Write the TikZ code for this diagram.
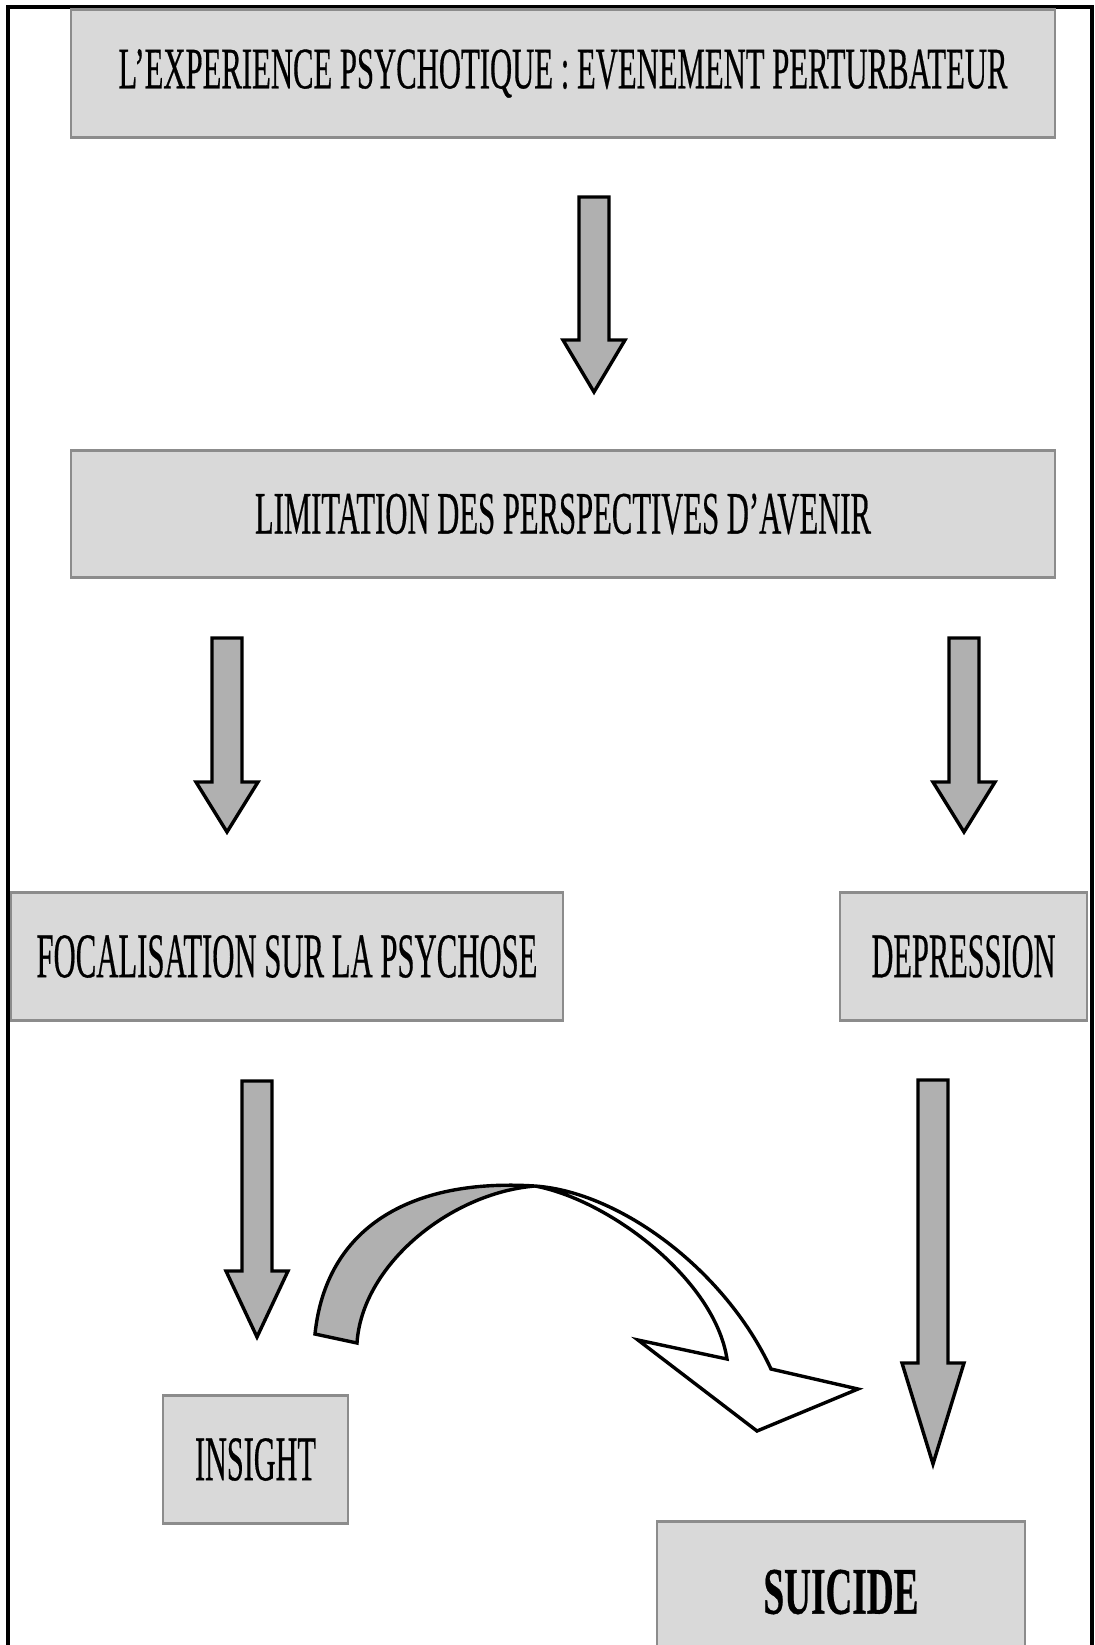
\documentclass[tikz,border=0pt]{standalone}
\usepackage{fontspec}
\setmainfont{Liberation Serif}
\newfontfamily\heavy[FakeBold=0.6]{Liberation Serif}
\usepackage{graphicx}
\definecolor{boxfill}{HTML}{D9D9D9}
\definecolor{boxedge}{HTML}{8C8C8C}
\definecolor{arrowfill}{HTML}{B0B0B0}
\newcommand{\blockarrow}[4]{%
  \draw[barrow] ({#1-15},#2) -- ({#1+15},#2) -- ({#1+15},#3) -- ({#1+31},#3) -- (#1,#4) -- ({#1-31},#3) -- ({#1-15},#3) -- cycle;}
\begin{document}
\begin{tikzpicture}[x=0.5pt,y=-0.5pt,
  box/.style={rectangle, fill=boxfill, draw=boxedge, line width=0.7pt, inner sep=0pt, text=black, font=\heavy},
  boxedgeline/.style={draw=boxedge, line width=1.6pt},
  barrow/.style={fill=arrowfill, draw=black, line width=1.7pt, line join=miter},
  curv/.style={draw=black, line width=1.7pt, line join=miter},
  frameline/.style={draw=black, line width=2pt}]
\useasboundingbox (0,0) rectangle (1095,1645);
\clip (0,0) rectangle (1095,1645);
\fill[white] (0,0) rectangle (1095,1645);
% frame
\draw[frameline] (8,1650) -- (8,7) -- (1092,7) -- (1092,1650);
% boxes
\node[box, minimum width=492pt, minimum height=63.5pt] (b1) at (563,73.5)
  {\resizebox{444.5pt}{19.5pt}{L’EXPERIENCE PSYCHOTIQUE : EVENEMENT PERTURBATEUR}};
\node[box, minimum width=492pt, minimum height=63pt] (b2) at (563,514)
  {\resizebox{308pt}{20pt}{LIMITATION DES PERSPECTIVES D’AVENIR}};
\node[box, minimum width=276pt, minimum height=63.5pt] (b3) at (287,956.5)
  {\resizebox{250.5pt}{21pt}{FOCALISATION SUR LA PSYCHOSE}};
\node[box, minimum width=123.5pt, minimum height=63.5pt] (b4) at (963.5,956.5)
  {\resizebox{92pt}{21pt}{DEPRESSION}};
\node[box, minimum width=92.5pt, minimum height=63.5pt] (b5) at (255.5,1459.5)
  {\resizebox{60.5pt}{21pt}{INSIGHT}};
\node[box, minimum width=184pt, minimum height=70pt] (b6) at (841,1592)
  {\resizebox{77.5pt}{22pt}{\bfseries SUICIDE}};
\foreach \b in {b1,b2,b3,b4,b5}{
  \draw[boxedgeline] (\b.north west) -- (\b.north east);
  \draw[boxedgeline] (\b.south west) -- (\b.south east);
}
\draw[boxedgeline] (b6.north west) -- (b6.north east);
% block arrows
\blockarrow{594}{197}{340}{392}
\blockarrow{227}{638}{782}{832}
\blockarrow{964}{638}{782}{832}
\blockarrow{257}{1081}{1271}{1337}
\blockarrow{933}{1080}{1363}{1464}
% curved arrow
\coordinate (ca1) at (315,1334);
\coordinate (ca2) at (357,1343);
\coordinate (cm) at (535,1186);
\coordinate (coe) at (771,1369);
\coordinate (cie) at (727,1359);
\coordinate (cw1) at (638,1340);
\coordinate (ctip) at (757,1431);
\coordinate (cw2) at (858,1389);
\fill[white] (ca1) .. controls (326,1228) and (410,1178) .. (cm)
  .. controls (620,1192) and (725,1270) .. (coe) -- (cw2) -- (ctip) -- (cw1) -- (cie)
  .. controls (715,1280) and (610,1200) .. (cm)
  .. controls (450,1193) and (362,1265) .. (ca2) -- cycle;
\fill[arrowfill] (ca1) .. controls (326,1228) and (410,1178) .. (cm)
  .. controls (450,1193) and (362,1265) .. (ca2) -- cycle;
\draw[curv] (ca1) .. controls (326,1228) and (410,1178) .. (cm)
  .. controls (620,1192) and (725,1270) .. (coe) -- (cw2) -- (ctip) -- (cw1) -- (cie)
  .. controls (715,1280) and (610,1200) .. (cm)
  .. controls (450,1193) and (362,1265) .. (ca2) -- cycle;
\end{tikzpicture}
\end{document}
